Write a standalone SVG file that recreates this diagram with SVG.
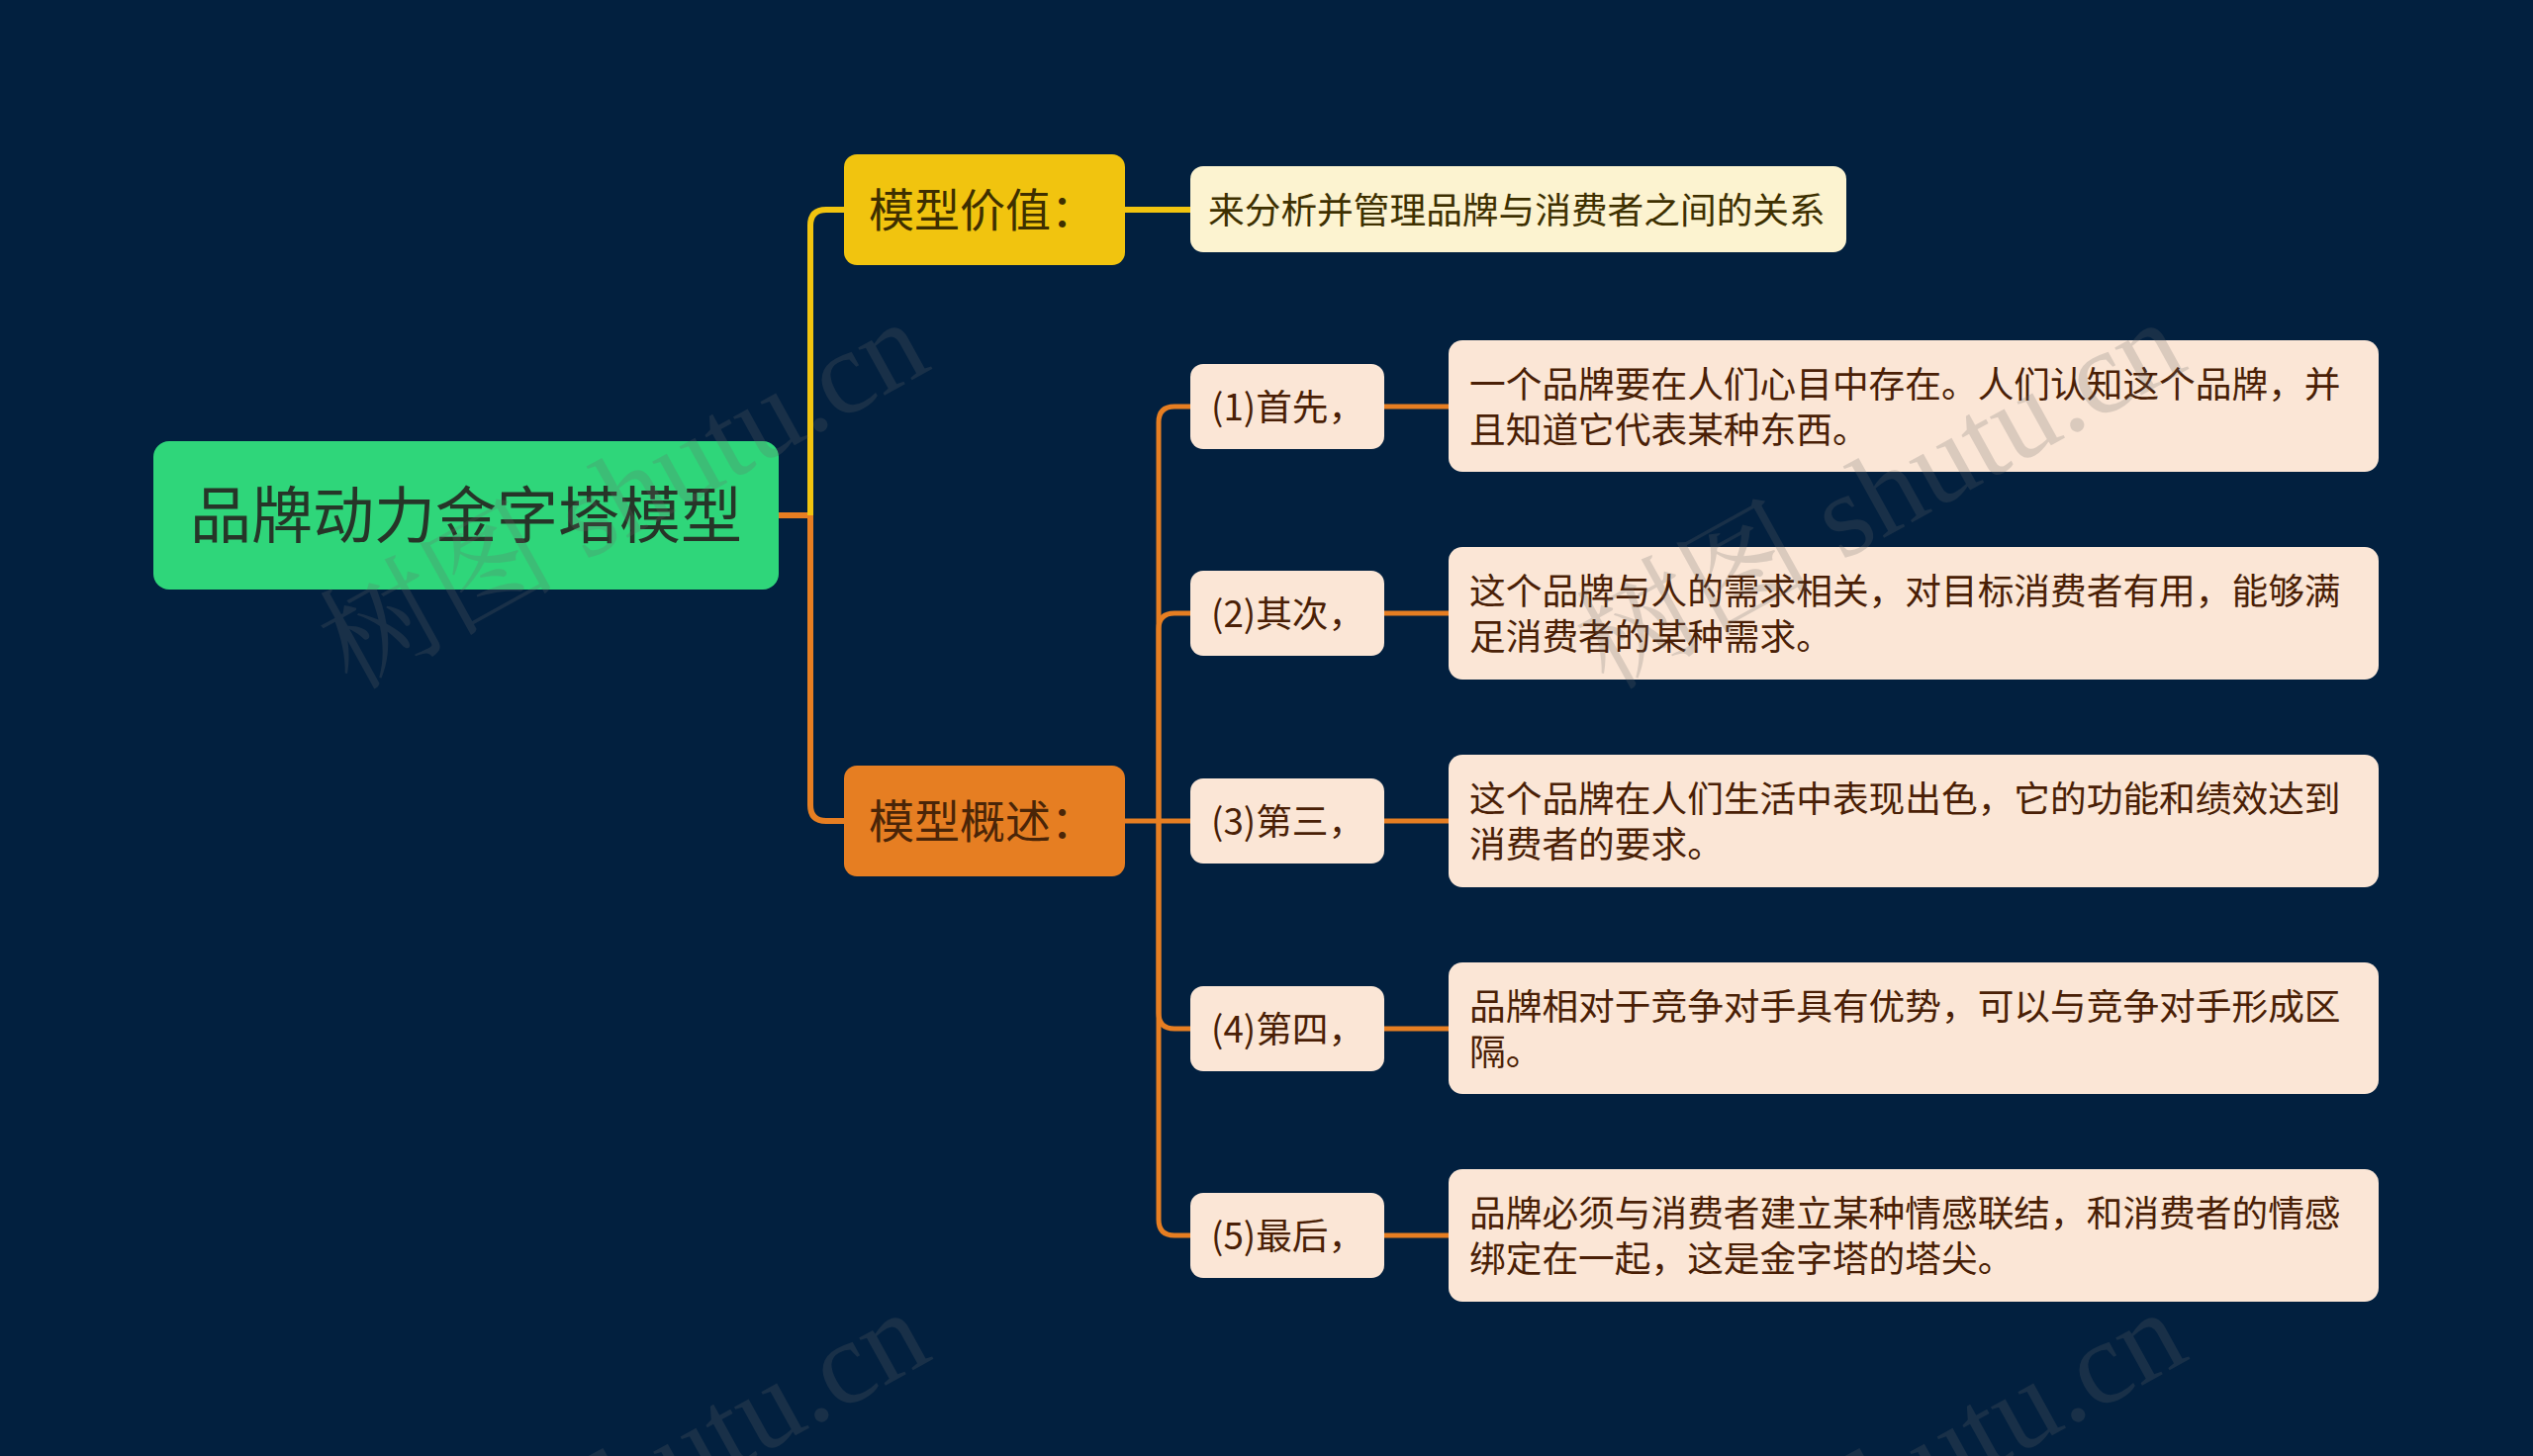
<svg xmlns="http://www.w3.org/2000/svg" width="2560" height="1472" viewBox="0 0 2560 1472">
<style>
text{font-family:"Noto Sans CJK SC","Noto Sans",sans-serif;}
.root-box{fill:#2FD67A;}
.root-txt{font-size:62px;fill:#263528;text-anchor:middle;}
.b-yellow{fill:#F1C40F;}
.b-orange{fill:#E67E22;}
.b-txt{font-size:46px;}
.leaf{fill:#FBE6D6;}
.leaf-y{fill:#FCF3D0;}
.t{font-size:36.7px;fill:#4A1F06;}
.ty{font-size:36.7px;fill:#3E3000;}
.c-y{fill:none;stroke:#F1C40F;stroke-width:6;}
.c-o{fill:none;stroke:#E67E22;stroke-width:6;}
.c-o2{fill:none;stroke:#E67E22;stroke-width:5;}
.wm{font-family:"Liberation Serif","Noto Serif CJK SC","Noto Sans CJK SC",serif;font-size:120px;fill:#6a6a6a;opacity:0.22;text-anchor:end;}
</style>
<rect x="0" y="0" width="2560" height="1472" fill="#02203F"/>

<g id="connectors">
  <path class="c-o" d="M786 521 H819"/>
  <path class="c-y" d="M819 521 V228 Q819 212 835 212 H853"/>
  <path class="c-y" d="M1137 212 H1203"/>
  <path class="c-o" d="M819 521 V814 Q819 830 835 830 H853"/>
  <path class="c-o2" d="M1137 830 H1203"/>
  <path class="c-o2" d="M1171 830 V427 Q1171 411 1187 411 H1203"/>
  <path class="c-o2" d="M1171 830 V636 Q1171 620 1187 620 H1203"/>
  <path class="c-o2" d="M1171 830 V1024 Q1171 1040 1187 1040 H1203"/>
  <path class="c-o2" d="M1171 830 V1233 Q1171 1249 1187 1249 H1203"/>
  <path class="c-o2" d="M1399 411 H1464"/>
  <path class="c-o2" d="M1399 620 H1464"/>
  <path class="c-o2" d="M1399 830 H1464"/>
  <path class="c-o2" d="M1399 1040 H1464"/>
  <path class="c-o2" d="M1399 1249 H1464"/>
</g>

<g id="root">
  <rect class="root-box" x="155" y="446" width="632" height="150" rx="16"/>
  <text class="root-txt" x="471" y="544">品牌动力金字塔模型</text>
</g>

<g id="branch-value">
  <rect class="b-yellow" x="853" y="156" width="284" height="112" rx="13"/>
  <text class="b-txt" x="878" y="229" fill="#3E2F00">模型价值：</text>
</g>
<g id="leaf-value">
  <rect class="leaf-y" x="1203" y="168" width="663" height="87" rx="13"/>
  <text class="ty" x="1221" y="226">来分析并管理品牌与消费者之间的关系</text>
</g>

<g id="branch-overview">
  <rect class="b-orange" x="853" y="774" width="284" height="112" rx="13"/>
  <text class="b-txt" x="878" y="847" fill="#4A2508">模型概述：</text>
</g>

<g id="child-1">
  <rect class="leaf" x="1203" y="368" width="196" height="86" rx="13"/>
  <text class="t" x="1224" y="425">(1)首先，</text>
</g>
<g id="child-2">
  <rect class="leaf" x="1203" y="577" width="196" height="86" rx="13"/>
  <text class="t" x="1224" y="634">(2)其次，</text>
</g>
<g id="child-3">
  <rect class="leaf" x="1203" y="787" width="196" height="86" rx="13"/>
  <text class="t" x="1224" y="844">(3)第三，</text>
</g>
<g id="child-4">
  <rect class="leaf" x="1203" y="997" width="196" height="86" rx="13"/>
  <text class="t" x="1224" y="1054">(4)第四，</text>
</g>
<g id="child-5">
  <rect class="leaf" x="1203" y="1206" width="196" height="86" rx="13"/>
  <text class="t" x="1224" y="1263">(5)最后，</text>
</g>

<g id="leaf-1">
  <rect class="leaf" x="1464" y="344" width="940" height="133" rx="14"/>
  <text class="t" x="1485" y="402">一个品牌要在人们心目中存在。人们认知这个品牌，并</text>
  <text class="t" x="1485" y="448">且知道它代表某种东西。</text>
</g>
<g id="leaf-2">
  <rect class="leaf" x="1464" y="553" width="940" height="134" rx="14"/>
  <text class="t" x="1485" y="611">这个品牌与人的需求相关，对目标消费者有用，能够满</text>
  <text class="t" x="1485" y="657">足消费者的某种需求。</text>
</g>
<g id="leaf-3">
  <rect class="leaf" x="1464" y="763" width="940" height="134" rx="14"/>
  <text class="t" x="1485" y="821">这个品牌在人们生活中表现出色，它的功能和绩效达到</text>
  <text class="t" x="1485" y="867">消费者的要求。</text>
</g>
<g id="leaf-4">
  <rect class="leaf" x="1464" y="973" width="940" height="133" rx="14"/>
  <text class="t" x="1485" y="1031">品牌相对于竞争对手具有优势，可以与竞争对手形成区</text>
  <text class="t" x="1485" y="1077">隔。</text>
</g>
<g id="leaf-5">
  <rect class="leaf" x="1464" y="1182" width="940" height="134" rx="14"/>
  <text class="t" x="1485" y="1240">品牌必须与消费者建立某种情感联结，和消费者的情感</text>
  <text class="t" x="1485" y="1286">绑定在一起，这是金字塔的塔尖。</text>
</g>

<g id="watermark">
  <text class="wm" x="944" y="372" transform="rotate(-29 944 372)">树图 shutu.cn</text>
  <text class="wm" x="2214" y="372" transform="rotate(-29 2214 372)">树图 shutu.cn</text>
  <text class="wm" x="945" y="1373" transform="rotate(-29 945 1373)">树图 shutu.cn</text>
  <text class="wm" x="2215" y="1373" transform="rotate(-29 2215 1373)">树图 shutu.cn</text>
</g>
</svg>
